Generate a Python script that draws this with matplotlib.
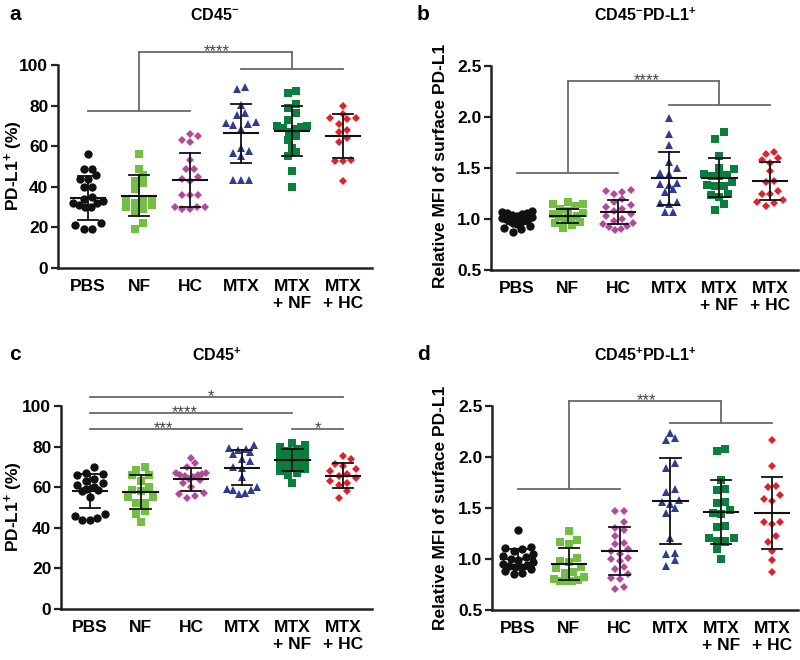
import matplotlib
matplotlib.use('Agg')
import matplotlib.pyplot as plt
import numpy as np

plt.rcParams['font.family'] = ['Liberation Sans', 'DejaVu Sans']
plt.rcParams['font.weight'] = 'bold'
plt.rcParams['mathtext.fontset'] = 'custom'
plt.rcParams['mathtext.rm'] = 'Liberation Sans:bold'
plt.rcParams['mathtext.bf'] = 'Liberation Sans:bold'
plt.rcParams['mathtext.it'] = 'Liberation Sans:bold'

# ---------------- data ----------------
groups = ['PBS', 'NF', 'HC', 'MTX', 'MTX\n+ NF', 'MTX\n+ HC']
colors = ['#111111', '#72bf44', '#b3499c', '#2e3d8f', '#0b7d3e', '#e0202a']
markers = ['o', 's', 'D', '^', 's', 'D']

# panel a: CD45- PD-L1+ (%)
a_pbs = [56, 49, 49, 46, 44, 44, 40, 40, 35, 34, 33, 32, 32, 31, 30, 30, 22, 21, 19, 19]
a_nf = [56, 49, 46, 43, 42, 39, 34, 33, 33, 32, 31, 30, 29, 28, 22, 19]
a_hc = [66, 65, 63, 62, 53, 49, 49, 45, 44, 43, 36, 36, 36, 30, 30, 29, 29, 30]
a_mtx = [89, 88, 80.5, 76.5, 75.5, 72, 71.5, 70.5, 71, 68.5, 59, 57.5, 56.5, 55, 43.5, 43.5, 43.5]
a_mtxnf = [87, 86, 81, 79, 76.5, 73, 70, 70, 69.5, 69, 68.5, 67, 65, 63, 59, 57, 55, 48, 40]
a_mtxhc = [80, 76, 74, 74, 73.5, 71, 68, 67, 64, 62, 53, 52.5, 52.5, 43]
a_mean = [34.4, 35.7, 43.3, 66.4, 67.5, 64.9]
a_sd = [10.7, 10.3, 13.3, 14.5, 12.5, 10.9]

# panel b: CD45- PD-L1+ relative MFI
b_pbs = [1.08, 1.07, 1.06, 1.06, 1.05, 1.04, 1.03, 1.02, 1.01, 1.00, 1.00, 0.99, 0.98,
         0.97, 0.96, 0.95, 0.93, 0.91, 0.90, 0.87]
b_nf = [1.17, 1.15, 1.15, 1.13, 1.10, 1.08, 1.06, 1.05, 1.03, 1.02, 1.00, 0.99, 0.97,
        0.96, 0.94, 0.91]
b_hc = [1.28, 1.27, 1.26, 1.25, 1.20, 1.17, 1.14, 1.12, 1.10, 1.08, 1.05, 1.03, 1.00,
        0.98, 0.96, 0.95, 0.93, 0.92, 0.90, 0.89]
b_mtx = [1.99, 1.83, 1.73, 1.56, 1.50, 1.45, 1.44, 1.35, 1.34, 1.33, 1.29, 1.26, 1.17,
         1.16, 1.15, 1.07, 1.07]
b_mtxnf = [1.85, 1.78, 1.62, 1.50, 1.49, 1.44, 1.43, 1.42, 1.42, 1.36, 1.33, 1.32, 1.32,
           1.25, 1.24, 1.22, 1.15, 1.09]
b_mtxhc = [1.66, 1.64, 1.60, 1.58, 1.55, 1.47, 1.37, 1.36, 1.27, 1.25, 1.25, 1.19, 1.17,
           1.16, 1.13]
b_mean = [1.00, 1.03, 1.07, 1.40, 1.405, 1.37]
b_sd = [0.05, 0.07, 0.12, 0.26, 0.19, 0.185]

# panel c: CD45+ PD-L1+ (%)
c_pbs = [70, 67, 66.5, 66, 64, 63, 62, 61, 60, 59, 58.5, 58, 55, 47, 46, 45, 44, 44]
c_nf = [70, 68.5, 66, 66, 63, 60, 58, 58.5, 55, 55, 52, 52, 48.5, 47, 43]
c_hc = [74.5, 72, 70, 67, 67, 66.5, 66, 66, 65.5, 65, 64, 63.5, 62, 60, 57, 56.5, 55.5, 54.5]
c_mtx = [81, 79.5, 79, 78.5, 77.5, 76.5, 74, 73, 70, 69.5, 65, 60, 58.5, 59, 57, 56.5, 58.5]
c_mtxnf = [82, 81, 80, 79, 78, 77, 76, 75, 74, 73, 72, 71, 70, 69, 68, 67, 66, 62]
c_mtxhc = [75.5, 74, 71.5, 70.5, 69, 68, 66.5, 65.5, 64.5, 63, 62, 61, 58, 54.5]
c_mean = [58.0, 57.5, 63.9, 69.7, 73.4, 65.7]
c_sd = [8.3, 8.4, 5.7, 8.8, 5.5, 6.0]

# panel d: CD45+ PD-L1+ relative MFI
d_pbs = [1.28, 1.12, 1.11, 1.10, 1.08, 1.05, 1.03, 1.02, 1.00, 0.99, 0.97, 0.95, 0.94,
         0.93, 0.92, 0.92, 0.90, 0.88, 0.86, 0.85]
d_nf = [1.27, 1.19, 1.17, 1.15, 1.01, 0.98, 0.97, 0.92, 0.91, 0.87, 0.86, 0.82, 0.80,
        0.79, 0.78, 0.78, 0.78]
d_hc = [1.47, 1.47, 1.36, 1.30, 1.28, 1.23, 1.16, 1.15, 1.10, 1.08, 1.05, 1.01, 1.00,
        0.98, 0.92, 0.90, 0.85, 0.81, 0.80, 0.73, 0.71]
d_mtx = [2.24, 2.19, 2.17, 1.94, 1.89, 1.69, 1.66, 1.58, 1.56, 1.54, 1.50, 1.45, 1.21,
         1.06, 1.05, 0.99, 0.93]
d_mtxnf = [2.08, 2.06, 1.77, 1.69, 1.68, 1.56, 1.55, 1.48, 1.45, 1.44, 1.32, 1.31, 1.21,
           1.21, 1.18, 1.18, 1.17, 1.10, 1.00]
d_mtxhc = [2.17, 1.91, 1.72, 1.71, 1.63, 1.59, 1.57, 1.36, 1.36, 1.34, 1.23, 1.17, 1.08,
           0.99, 0.87]
d_mean = [1.00, 0.95, 1.08, 1.57, 1.46, 1.45]
d_sd = [0.10, 0.16, 0.235, 0.42, 0.31, 0.355]

# significance annotations: (x1, x2, y) lines and (x, y, text) labels
a_sig_lines = [(0, 2, 77.4), (3, 5, 98.0), (1, 4, 106.3)]
a_sig_vlines = [(1, 77.4, 106.3), (4, 98.0, 106.3)]
a_sig_text = [(2.53, 106.3, '****')]

b_sig_lines = [(0, 2, 1.45), (3, 5, 2.12), (1, 4, 2.35)]
b_sig_vlines = [(1, 1.45, 2.35), (4, 2.12, 2.35)]
b_sig_text = [(2.56, 2.35, '****')]

c_sig_lines = [(0, 5, 104.6), (0, 4, 96.4), (0, 3, 88.5), (4, 5, 88.5)]
c_sig_vlines = []
c_sig_text = [(2.39, 104.6, '*'), (1.88, 96.4, '****'), (1.45, 88.5, '***'), (4.5, 88.5, '*')]

d_sig_lines = [(0, 2, 1.683), (3, 5, 2.33), (1, 4, 2.55)]
d_sig_vlines = [(1, 1.683, 2.55), (4, 2.33, 2.55)]
d_sig_text = [(2.52, 2.55, '***')]

W, H = 800, 660
fig = plt.figure(figsize=(W / 100, H / 100), dpi=100)


def swarm_x(ax, xc, vals, diam=8.4, maxhalf=15):
    vals = np.asarray(vals, float)
    pts = ax.transData.transform(np.column_stack([np.full(len(vals), xc), vals]))
    ypix = pts[:, 1]
    order = np.argsort(ypix)
    offs = np.zeros(len(vals))
    bins = []
    cur = [order[0]]
    for i in order[1:]:
        if ypix[i] - ypix[cur[0]] < diam * 0.85:
            cur.append(i)
        else:
            bins.append(cur)
            cur = [i]
    bins.append(cur)
    for b in bins:
        n = len(b)
        sp = diam
        if n > 1 and (n - 1) * sp / 2 > maxhalf:
            sp = 2 * maxhalf / (n - 1)
        pos = [(k - (n - 1) / 2) * sp for k in range(n)]
        pos_sorted = sorted(pos, key=lambda p: (abs(p), p))
        members = sorted(b, key=lambda j: ypix[j])
        for idx, p in zip(members, pos_sorted):
            offs[idx] = p
    xpix = pts[:, 0] + offs
    return ax.transData.inverted().transform(np.column_stack([xpix, ypix]))[:, 0]


def panel(rect, xlim, ylim, yticks, fmt, data, means, sds, lines, vlines, texts):
    ax = fig.add_axes(rect)
    ax.set_xlim(*xlim)
    ax.set_ylim(*ylim)
    for s in ['top', 'right']:
        ax.spines[s].set_visible(False)
    for s in ['left', 'bottom']:
        ax.spines[s].set_linewidth(1.8)
        ax.spines[s].set_color('#222222')
    ax.set_yticks(yticks)
    ax.set_yticklabels([fmt.format(v) for v in yticks], fontsize=12.5, fontweight='bold')
    ax.set_xticks(range(len(groups)))
    ax.set_xticklabels(groups, fontsize=12.5, fontweight='bold', linespacing=1.15)
    ax.tick_params(axis='y', length=5, width=1.6, color='#222222', pad=2)
    ax.tick_params(axis='x', length=0, pad=8)
    sizes = {'o': 6.0, 's': 5.6, 'D': 4.2, '^': 6.4}
    for i, vals in enumerate(data):
        xs = swarm_x(ax, i, vals)
        ax.plot(xs, vals, linestyle='none', marker=markers[i], color=colors[i],
                markersize=sizes[markers[i]], markeredgewidth=0, zorder=2, clip_on=False)
        m, s = means[i], sds[i]
        ax.plot([i - 0.34, i + 0.34], [m, m], color='#111111', lw=1.5, zorder=3)
        ax.plot([i - 0.2, i + 0.2], [m + s, m + s], color='#111111', lw=1.3, zorder=3)
        ax.plot([i - 0.2, i + 0.2], [m - s, m - s], color='#111111', lw=1.3, zorder=3)
        ax.plot([i, i], [m - s, m + s], color='#111111', lw=1.3, zorder=3)
    for x1, x2, y in lines:
        ax.plot([x1, x2], [y, y], color='#6a6a6a', lw=1.3, clip_on=False, zorder=1)
    for x, y1, y2 in vlines:
        ax.plot([x, x], [y1, y2], color='#6a6a6a', lw=1.3, clip_on=False, zorder=1)
    for x, y, t in texts:
        ax.annotate(t, (x, y), xytext=(0, -3), textcoords='offset points',
                    ha='center', va='baseline', fontsize=12, fontweight='normal',
                    color='#444444', annotation_clip=False)
    return ax


def fx(px):
    return px / W


def fy(py):
    return 1 - py / H


# panel a
panel([58 / W, fy(268), 314 / W, 203 / H], (-0.588, 5.569), (0, 100), [0, 20, 40, 60, 80, 100],
      '{:.0f}', [a_pbs, a_nf, a_hc, a_mtx, a_mtxnf, a_mtxhc], a_mean, a_sd,
      a_sig_lines, a_sig_vlines, a_sig_text)
# panel b
panel([491 / W, fy(270), 307 / W, 204 / H], (-0.514, 5.553), (0.5, 2.5), [0.5, 1.0, 1.5, 2.0, 2.5],
      '{:.1f}', [b_pbs, b_nf, b_hc, b_mtx, b_mtxnf, b_mtxhc], b_mean, b_sd,
      b_sig_lines, b_sig_vlines, b_sig_text)
# panel c
panel([61 / W, fy(609), 311 / W, 203 / H], (-0.573, 5.573), (0, 100), [0, 20, 40, 60, 80, 100],
      '{:.0f}', [c_pbs, c_nf, c_hc, c_mtx, c_mtxnf, c_mtxhc], c_mean, c_sd,
      c_sig_lines, c_sig_vlines, c_sig_text)
# panel d
panel([492 / W, fy(610), 306 / W, 204 / H], (-0.512, 5.512), (0.5, 2.5), [0.5, 1.0, 1.5, 2.0, 2.5],
      '{:.1f}', [d_pbs, d_nf, d_hc, d_mtx, d_mtxnf, d_mtxhc], d_mean, d_sd,
      d_sig_lines, d_sig_vlines, d_sig_text)

# panel letters
for (x, y, t) in [(15, 15, 'a'), (423, 15, 'b'), (15, 355, 'c'), (423, 355, 'd')]:
    fig.text(fx(x), fy(y), t, fontsize=15, fontweight='bold', ha='center', va='center')

# titles
titles = [(215, 15, r'CD45$^{\mathbf{-}}$'),
          (645, 15, r'CD45$^{\mathbf{-}}$PD-L1$^{\mathbf{+}}$'),
          (217, 355, r'CD45$^{\mathbf{+}}$'),
          (645, 355, r'CD45$^{\mathbf{+}}$PD-L1$^{\mathbf{+}}$')]
for x, y, t in titles:
    fig.text(fx(x), fy(y), t, fontsize=11.5, fontweight='bold', ha='center', va='center')

# y labels
ylabels = [(14, 166, r'PD-L1$^{\mathbf{+}}$ (%)'),
           (440, 166, 'Relative MFI of surface PD-L1'),
           (14, 507, r'PD-L1$^{\mathbf{+}}$ (%)'),
           (440, 508, 'Relative MFI of surface PD-L1')]
for x, y, t in ylabels:
    fig.text(fx(x), fy(y), t, fontsize=12.5, fontweight='bold', rotation=90,
             ha='center', va='center')

fig.savefig('out.png', dpi=100)
